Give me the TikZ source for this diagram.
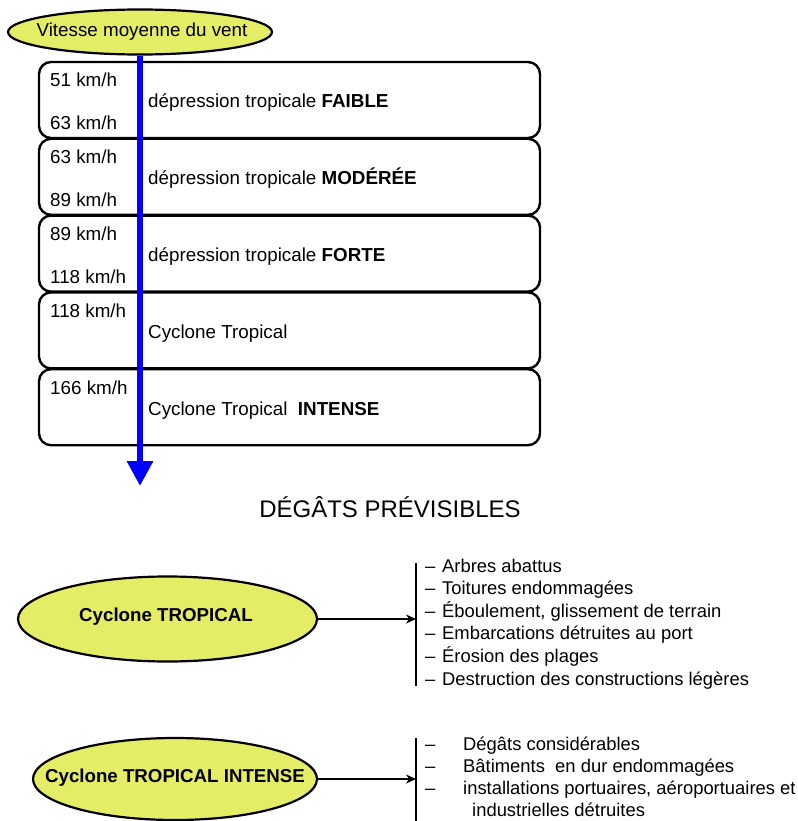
\documentclass[tikz,border=0pt]{standalone}
\usepackage{fontspec}
\setmainfont{Liberation Sans}
\usetikzlibrary{shapes.geometric,arrows.meta}
\definecolor{ellfill}{RGB}{229,236,102}
\definecolor{arrowblue}{RGB}{0,0,255}
\begin{document}
\begin{tikzpicture}[x=1pt,y=-1pt,
  band/.style={draw=black, line width=2.4pt, rounded corners=12pt, minimum width=501pt, minimum height=76pt, inner sep=0pt},
  oval/.style={ellipse, draw=black, line width=2.2pt, fill=ellfill, inner sep=0pt},
  lbl/.style={anchor=base west, inner sep=0pt, font=\fontsize{18.8}{22}\selectfont},
  item/.style={anchor=base west, inner sep=0pt, font=\fontsize{18.4}{22}\selectfont},
  ovaltext/.style={inner sep=0pt, font=\fontsize{18.7}{22}\selectfont\bfseries},
  title/.style={inner sep=0pt, font=\fontsize{24}{28}\selectfont},
  bluearrow/.style={draw=arrowblue, line width=6.5pt, -{Triangle[width=25pt,length=25pt]}},
  blackarrow/.style={draw=black, line width=2.2pt, -{Stealth[length=10pt,width=9pt]}},
  bar/.style={draw=black, line width=2.2pt}
]
\useasboundingbox (0,0) rectangle (797,821);
\fill[white] (0,0) rectangle (797,821);

% speed bands
\node[band] (b1) at (289.5,100.0) {};
\node[band] (b2) at (289.5,176.8) {};
\node[band] (b3) at (289.5,253.6) {};
\node[band] (b4) at (289.5,330.4) {};
\node[band] (b5) at (289.5,407.2) {};

\node[lbl] (t1a) at (50,87) {51 km/h};
\node[lbl] (t1b) at (50,130) {63 km/h};
\node[lbl] (t1c) at (148,108) {dépression tropicale \textbf{FAIBLE}};

\node[lbl] (t2a) at (50,163.8) {63 km/h};
\node[lbl] (t2b) at (50,206.8) {89 km/h};
\node[lbl] (t2c) at (148,184.8) {dépression tropicale \textbf{MODÉRÉE}};

\node[lbl] (t3a) at (50,240.6) {89 km/h};
\node[lbl] (t3b) at (50,283.6) {118 km/h};
\node[lbl] (t3c) at (148,261.6) {dépression tropicale \textbf{FORTE}};

\node[lbl] (t4a) at (50,317.4) {118 km/h};
\node[lbl] (t4c) at (148,338.4) {Cyclone Tropical};

\node[lbl] (t5a) at (50,394.2) {166 km/h};
\node[lbl] (t5c) at (148,415.2) {Cyclone Tropical\ \ \textbf{INTENSE}};

% top ellipse and blue arrow
\node[oval, minimum width=264pt, minimum height=45pt] (vit) at (140,32) {};
\node[inner sep=0pt, font=\fontsize{18.8}{22}\selectfont] (vittext) at (142,32) {Vitesse moyenne du vent};
\coordinate (tip) at (140,486);
\draw[bluearrow] (vit.south) -- (tip);

\node[title] (deg) at (390,507) {DÉGÂTS PRÉVISIBLES};

% Cyclone tropical
\node[oval, minimum width=299pt, minimum height=85pt] (ct) at (167.5,619) {};
\node[ovaltext] (cttext) at (166,617) {Cyclone TROPICAL};
\coordinate (v1top) at (416,563);
\coordinate (v1bot) at (416,686);
\coordinate (v1mid) at (416,619);
\draw[bar] (v1top) -- (v1bot);
\draw[blackarrow] (ct.east) -- (v1mid);

\node[item] (l1) at (425,572.0) {\makebox[17pt][l]{–}Arbres abattus};
\node[item] (l2) at (425,594.6) {\makebox[17pt][l]{–}Toitures endommagées};
\node[item] (l3) at (425,617.2) {\makebox[17pt][l]{–}Éboulement, glissement de terrain};
\node[item] (l4) at (425,639.8) {\makebox[17pt][l]{–}Embarcations détruites au port};
\node[item] (l5) at (425,662.4) {\makebox[17pt][l]{–}Érosion des plages};
\node[item] (l6) at (425,685.0) {\makebox[17pt][l]{–}Destruction des constructions légères};

% Cyclone tropical intense
\node[oval, minimum width=284pt, minimum height=82pt] (cti) at (175,779) {};
\node[ovaltext] (ctitext) at (175,778) {Cyclone TROPICAL INTENSE};
\coordinate (v2top) at (416,738);
\coordinate (v2bot) at (416,830);
\coordinate (v2mid) at (416,779);
\draw[bar] (v2top) -- (v2bot);
\draw[blackarrow] (cti.east) -- (v2mid);

\node[item] (m1) at (425,750.0) {\makebox[38pt][l]{–}Dégâts considérables};
\node[item] (m2) at (425,772.3) {\makebox[38pt][l]{–}Bâtiments\ \ en dur endommagées};
\node[item] (m3) at (425,794.6) {\makebox[38pt][l]{–}installations portuaires, aéroportuaires et};
\node[item] (m4) at (472,816.9) {industrielles détruites};
\end{tikzpicture}
\end{document}
